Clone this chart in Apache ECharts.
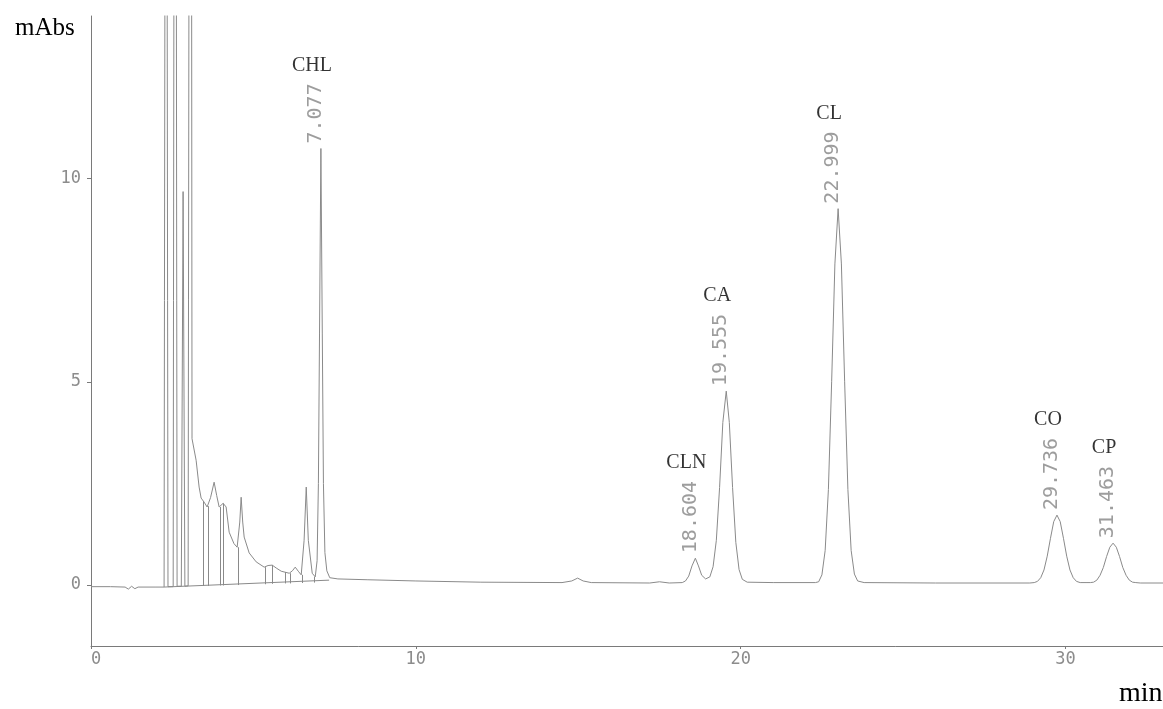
<!DOCTYPE html>
<html>
<head>
<meta charset="utf-8">
<script src="https://cdn.jsdelivr.net/npm/echarts@6/dist/echarts.min.js"></script>
<style>
  html, body { margin: 0; padding: 0; background: #ffffff; }
  #chart { width: 1163px; height: 709px; }
</style>
</head>
<body>
<div id="chart"></div>
<script>
// Identified peaks: name, retention time (min) and apex height (mAbs)
const peakNames = ['CHL', 'CLN', 'CA', 'CL', 'CO', 'CP'];
const peakTimes = [7.077, 18.604, 19.555, 22.999, 29.736, 31.463];
const peakHeights = [10.74, 0.66, 4.77, 9.26, 1.72, 1.03];

// Detector trace: retention time (min) and absorbance (mAbs)
const traceTime = [
  0.00, 0.60, 1.05, 1.15, 1.25, 1.35, 1.45, 2.00, 2.25,
  2.31, 2.37, 2.53, 2.59, 2.65, 2.78, 2.835, 2.89, 2.99, 3.066, 3.11,
  3.236, 3.328, 3.39, 3.482, 3.575, 3.68, 3.79, 3.87, 3.945, 4.068, 4.16,
  4.253, 4.40, 4.499, 4.58, 4.622, 4.67, 4.715, 4.869, 5.085, 5.331, 5.45,
  5.578, 5.70, 5.855, 6.102, 6.20, 6.287, 6.38, 6.471, 6.56, 6.626, 6.69,
  6.81, 6.903, 6.96, 7.00, 7.035, 7.077, 7.12, 7.155, 7.20, 7.26, 7.35,
  7.60, 8.50, 10.0, 12.0, 14.5, 14.8, 14.98, 15.15, 15.4, 17.2, 17.5, 17.8,
  18.2, 18.3, 18.4, 18.5, 18.604, 18.7, 18.8, 18.92, 19.05, 19.15, 19.25,
  19.35, 19.45, 19.555, 19.65, 19.75, 19.85, 19.95, 20.05, 20.2, 21.0,
  22.3, 22.4, 22.5, 22.6, 22.7, 22.8, 22.9, 22.999, 23.1, 23.2, 23.3, 23.4,
  23.5, 23.6, 23.8, 26.0, 28.9, 29.036, 29.136, 29.236, 29.336, 29.436,
  29.536, 29.636, 29.736, 29.836, 29.936, 30.036, 30.136, 30.236, 30.336,
  30.45, 30.66, 30.763, 30.863, 30.963, 31.063, 31.163, 31.263, 31.363,
  31.463, 31.563, 31.663, 31.763, 31.863, 31.963, 32.063, 32.163, 32.3, 33.0
];
const traceSignal = [
  -0.04, -0.04, -0.05, -0.10, -0.03, -0.09, -0.05, -0.05, -0.05,
  35, -0.04, -0.04, 40, -0.03, -0.03, 9.68, -0.03, -0.02, 45, 3.6,
  3.07, 2.41, 2.14, 2.04, 1.92, 2.15, 2.53, 2.20, 1.92, 2.01, 1.92,
  1.30, 1.02, 0.93, 1.55, 2.16, 1.55, 1.18, 0.79, 0.57, 0.44, 0.48,
  0.49, 0.42, 0.34, 0.29, 0.35, 0.44, 0.34, 0.25, 1.10, 2.41, 1.10,
  0.29, 0.20, 0.60, 2.50, 6.20, 10.74, 6.20, 2.50, 0.80, 0.35, 0.18,
  0.15, 0.13, 0.10, 0.07, 0.06, 0.10, 0.17, 0.10, 0.06, 0.05, 0.08, 0.05,
  0.06, 0.10, 0.22, 0.47, 0.66, 0.47, 0.24, 0.15, 0.20, 0.45, 1.10,
  2.40, 4.00, 4.77, 4.00, 2.40, 1.05, 0.38, 0.14, 0.07, 0.06,
  0.06, 0.08, 0.25, 0.85, 2.35, 5.00, 7.90, 9.26, 7.90, 5.00, 2.35, 0.85,
  0.27, 0.10, 0.06, 0.05, 0.05, 0.06, 0.09, 0.18, 0.37, 0.71,
  1.15, 1.56, 1.72, 1.56, 1.15, 0.71, 0.37, 0.18, 0.09,
  0.06, 0.06, 0.06, 0.07, 0.12, 0.24, 0.43, 0.70, 0.93,
  1.03, 0.93, 0.70, 0.43, 0.24, 0.12, 0.07, 0.06, 0.05, 0.05
];

// Integrator baseline under the early cluster (start and end points)
const baselineTime = [2.25, 7.33];
const baselineSignal = [-0.05, 0.12];

// Integration drop lines: time, level on the trace, level on the baseline
const dropTimes = [3.45, 3.61, 3.98, 4.07, 4.53, 5.36, 5.58, 5.98, 6.13, 6.50, 6.87];
const dropTops = [2.06, 1.94, 1.92, 2.01, 0.93, 0.44, 0.49, 0.32, 0.29, 0.25, 0.20];
const dropBottoms = [-0.02, -0.02, -0.01, -0.01, 0.00, 0.02, 0.03, 0.04, 0.04, 0.05, 0.06];

// Axis ticks
const yTickValues = [0, 5, 10];
const xTickStep = 10;

const TRACE = '#8a8a8a';
const AXIS = '#7a7a7a';
const MONO = '"DejaVu Sans Mono", "Liberation Mono", monospace';
const SERIF = '"Liberation Serif", "Times New Roman", serif';
const RT_FONT = 20;
const RT_ADVANCE = RT_FONT * 0.602;
const RT_GAP = 5;

const chart = echarts.init(document.getElementById('chart'), null, { renderer: 'canvas' });

const traceData = traceTime.map((t, i) => [t, traceSignal[i]]);
const baselineData = baselineTime.map((t, i) => [t, baselineSignal[i]]);
const dropData = dropTimes.map((t, i) => [
  { coord: [t, dropTops[i]] },
  { coord: [t, dropBottoms[i]] }
]);

// Retention-time labels, written vertically just above each apex
const rtData = peakTimes.map((t, i) => ({
  value: [t, peakHeights[i]],
  label: { formatter: t.toFixed(3) }
}));

// Compound names, stacked above the retention-time labels
const nameData = peakTimes.map((t, i) => ({
  value: [t, peakHeights[i]],
  label: {
    formatter: peakNames[i],
    distance: RT_GAP + t.toFixed(3).length * RT_ADVANCE + 8
  }
}));

chart.setOption({
  animation: false,
  backgroundColor: '#ffffff',
  title: [
    {
      text: 'mAbs', left: 10, top: 11,
      textStyle: { fontFamily: SERIF, fontSize: 25, fontWeight: 'normal', color: '#000' }
    },
    {
      text: 'min', left: 1114, top: 675,
      textStyle: { fontFamily: SERIF, fontSize: 28, fontWeight: 'normal', color: '#000' }
    }
  ],
  grid: { left: 91, right: 0, top: 16, bottom: 63, containLabel: false },
  xAxis: {
    type: 'value',
    min: 0,
    max: 33,
    interval: xTickStep,
    axisLine: { onZero: false, lineStyle: { color: AXIS, width: 1 } },
    axisTick: { show: true, length: 3, lineStyle: { color: AXIS } },
    splitLine: { show: false },
    axisLabel: {
      margin: 5,
      fontFamily: MONO, fontSize: 17, color: '#8c8c8c',
      showMaxLabel: false,
      alignMinLabel: 'left'
    }
  },
  yAxis: {
    type: 'value',
    min: -1.5,
    max: 14,
    axisLine: { show: true, onZero: false, lineStyle: { color: AXIS, width: 1 } },
    axisTick: { show: true, length: 4, customValues: yTickValues, lineStyle: { color: AXIS } },
    splitLine: { show: false },
    axisLabel: {
      margin: 10,
      customValues: yTickValues,
      fontFamily: MONO, fontSize: 17, color: '#8c8c8c'
    }
  },
  series: [
    {
      name: 'trace',
      type: 'line',
      data: traceData,
      symbol: 'none',
      clip: true,
      lineStyle: { color: TRACE, width: 1 },
      silent: true,
      markLine: {
        silent: true,
        symbol: ['none', 'none'],
        label: { show: false },
        lineStyle: { color: TRACE, width: 1, type: 'solid' },
        data: dropData
      }
    },
    {
      name: 'baseline',
      type: 'line',
      data: baselineData,
      symbol: 'none',
      lineStyle: { color: TRACE, width: 1 },
      silent: true
    },
    {
      name: 'retention',
      type: 'scatter',
      data: rtData,
      symbolSize: 0,
      silent: true,
      label: {
        show: true,
        position: 'top',
        distance: RT_GAP,
        rotate: 90,
        align: 'left',
        verticalAlign: 'middle',
        offset: [0, -5],
        fontFamily: MONO,
        fontSize: RT_FONT,
        color: '#858585'
      }
    },
    {
      name: 'compound',
      type: 'scatter',
      data: nameData,
      symbolSize: 0,
      silent: true,
      label: {
        show: true,
        position: 'top',
        align: 'center',
        verticalAlign: 'bottom',
        offset: [-9, 0],
        fontFamily: SERIF,
        fontSize: 20,
        color: '#000'
      }
    }
  ]
});
</script>
</body>
</html>
